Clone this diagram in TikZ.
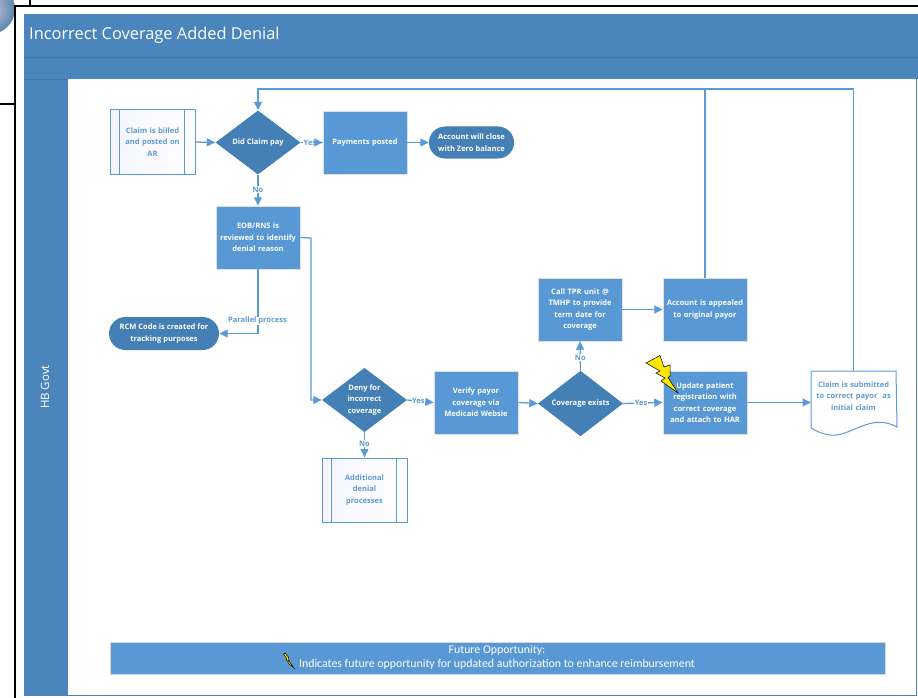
\documentclass[tikz,border=0pt]{standalone}
\usepackage{fontspec}
\setmainfont{Open Sans}
\newfontfamily\footfont{Carlito}
\usetikzlibrary{shapes.geometric,shapes.misc,arrows.meta}
\definecolor{boxblue}{HTML}{5898D4}
\definecolor{diablue}{HTML}{4480B6}
\definecolor{headblue}{HTML}{4A86BB}
\definecolor{bandline}{HTML}{3F78AB}
\definecolor{linkblue}{HTML}{5B9BD5}
\definecolor{textblue}{HTML}{5F9BD0}
\tikzset{
  x=1pt,y=-1pt,
  every node/.style={font=\fontsize{7.5}{11.4}\selectfont\bfseries,align=center,inner sep=0pt},
  procbox/.style={rectangle,fill=boxblue,draw=black!12,line width=.5pt,minimum width=84pt,minimum height=63pt,text=white,text width=82pt},
  decide/.style={diamond,fill=diablue,minimum width=85pt,minimum height=64pt,text=white},
  endbox/.style={rounded rectangle,fill=diablue,text=white,minimum width=85pt,minimum height=32pt},
  subbox/.style={rectangle,left color=blue!4,right color=white,draw=linkblue,line width=1pt,minimum width=85pt,minimum height=64pt,text=textblue,text width=62pt},
  link/.style={draw=linkblue,line width=1.3pt,-{Triangle[length=8.5pt,width=8pt]}},
  plain/.style={draw=linkblue,line width=1.3pt},
  tag/.style={fill=white,text=textblue,font=\fontsize{7.5}{8}\selectfont\bfseries,inner sep=.6pt},
  frameline/.style={draw=black,line width=1.5pt},
  bolt/.style={fill=yellow!90!orange,draw=black,line width=.5pt,line join=miter}
}
\begin{document}
\begin{tikzpicture}
\useasboundingbox (0,0) rectangle (918,698);
\fill[white] (0,0) rectangle (918,698);
% outer frames
\shade[inner color=blue!20!gray!35!white,outer color=headblue!70!gray] (-10,9) circle (25);
\draw[frameline] (30,0) -- (30,6);
\draw[frameline] (15,698) -- (15,6) -- (918,6);
\draw[frameline] (0,104) -- (15,104);
% swimlane frame
\fill[headblue] (24,14) rectangle (918,79);
\fill[headblue] (24,79) rectangle (68,696);
\fill[white] (68,79) rectangle (916,695);
\draw[bandline,line width=.6pt] (24,57) -- (918,57);
\draw[bandline,line width=.6pt] (24,79) -- (68,79);
\draw[headblue,line width=1pt] (68,695.5) -- (916,695.5) -- (916,79);
\node[text=white,anchor=west,font=\fontsize{16.4}{19}\selectfont] (title) at (29,35) {Incorrect Coverage Added Denial};
\node[text=white,rotate=90,font=\fontsize{11.5}{14}\selectfont] (lane) at (45,387) {HB Govt};
% nodes
\node[subbox] (billed) at (152.5,142) {Claim is billed\\and posted on\\AR};
\draw[linkblue,line width=1pt] (billed.north west)++(10,0) -- ++(0,64);
\draw[linkblue,line width=1pt] (billed.north east)++(-11,0) -- ++(0,64);
\node[decide] (pay) at (258,142.5) {Did Claim pay};
\node[procbox] (posted) at (365,142.5) {Payments posted};
\node[endbox] (close) at (471.5,142.5) {Account will close\\with Zero balance};
\node[procbox] (eob) at (258,237.5) {EOB/RNS is\\reviewed to identify\\denial reason};
\node[endbox,minimum width=110pt,minimum height=33pt] (rcm) at (164,333.5) {RCM Code is created for\\tracking purposes};
\node[decide] (deny) at (364.5,400) {Deny for\\incorrect\\coverage};
\node[procbox] (verify) at (476,402.5) {Verify payor\\coverage via\\Medicaid Websie};
\node[decide] (exists) at (580.5,403.5) {Coverage exists};
\node[procbox] (tpr) at (580,309.5) {Call TPR unit @\\TMHP to provide\\term date for\\coverage};
\node[procbox] (appeal) at (705,309.5) {Account is appealed\\to original payor};
\node[procbox] (update) at (705,402.5) {Update patient\\registration with\\correct coverage\\and attach to HAR};
\node[subbox] (more) at (364.5,490) {Additional\\denial\\processes};
\draw[linkblue,line width=1pt] (more.north west)++(10,0) -- ++(0,64);
\draw[linkblue,line width=1pt] (more.north east)++(-11,0) -- ++(0,64);
% document
\coordinate (docn) at (853.5,371);
\coordinate (docw) at (811,402.5);
\fill[white,draw=linkblue,line width=1pt] (811,371) -- (896,371) -- (897,427)
  .. controls (870,412) and (850,438) .. (830,435) .. controls (822,434) and (816,431) .. (811,428) -- cycle;
\node[text=textblue,text width=84pt] (doc) at (853.5,396) {Claim is submitted\\to correct payor~ as\\initial claim};
% footer
\node[rectangle,fill=boxblue,draw=black!15,line width=.5pt,minimum width=775pt,minimum height=32pt,text=white] (foot) at (497.5,658) {};
\node[text=white,font=\footfont\fontsize{11.85}{14}\selectfont] (foot1) at (497,650.5) {Future Opportunity:};
\node[text=white,font=\footfont\fontsize{11.85}{14}\selectfont] (foot2) at (497,664.5) {Indicates future opportunity for updated authorization to enhance reimbursement};
% connectors
\draw[link] (billed.east) -- (pay.west);
\draw[plain] (pay.east) -- node[tag,pos=.42] (y1) {Yes} (posted.west);
\draw[link] (y1.east) -- (posted.west);
\draw[link] (posted.east) -- (close.west);
\draw[link] (pay.south) -- node[tag,pos=.48] (n1) {No} (eob.north);
\coordinate (rcmturn) at (258,333.5);
\draw[link] (eob.south) -- (rcmturn) -- (rcm.east);
\node[tag] (par) at (257.5,321) {Parallel process};
\coordinate (t1) at (311,238);
\coordinate (t2) at (311,400);
\draw[link] (eob.east) -- (t1) -- (t2) -- (deny.west);
\draw[link] (deny.east) -- node[tag,pos=.42] (y2) {Yes} (verify.west);
\draw[link] (deny.south) -- node[tag,pos=.45] (n2) {No} (more.north);
\draw[link] (verify.east) -- (exists.west);
\draw[link] (exists.north) -- node[tag,pos=.45] (n3) {No} (tpr.south);
\draw[link] (exists.east) -- node[tag,pos=.45] (y3) {Yes} (update.west);
\draw[link] (tpr.east) -- (appeal.west);
\draw[link] (update.east) -- (docw);
\coordinate (b1) at (853.5,89);
\coordinate (b2) at (258,89);
\coordinate (b3) at (705,89);
\draw[link] (docn) -- (b1) -- (b2) -- (pay.north);
\draw[plain] (appeal.north) -- (b3);
% bolts
\draw[bolt] (646,363) -- (660,355.5) -- (664,367) -- (670,365) -- (670,376) -- (668,377.5) -- (678,393) -- (661,381) -- (665,378) -- (656,373) -- (660,371) -- cycle;
\draw[bolt] (283.5,654) -- (285.5,653) -- (287,656) -- (288,656) -- (289,660) -- (288.5,660.5) -- (294,668) -- (288,663) -- (288,661.5) -- (286.5,660) -- (287,659) -- cycle;
\end{tikzpicture}
\end{document}
